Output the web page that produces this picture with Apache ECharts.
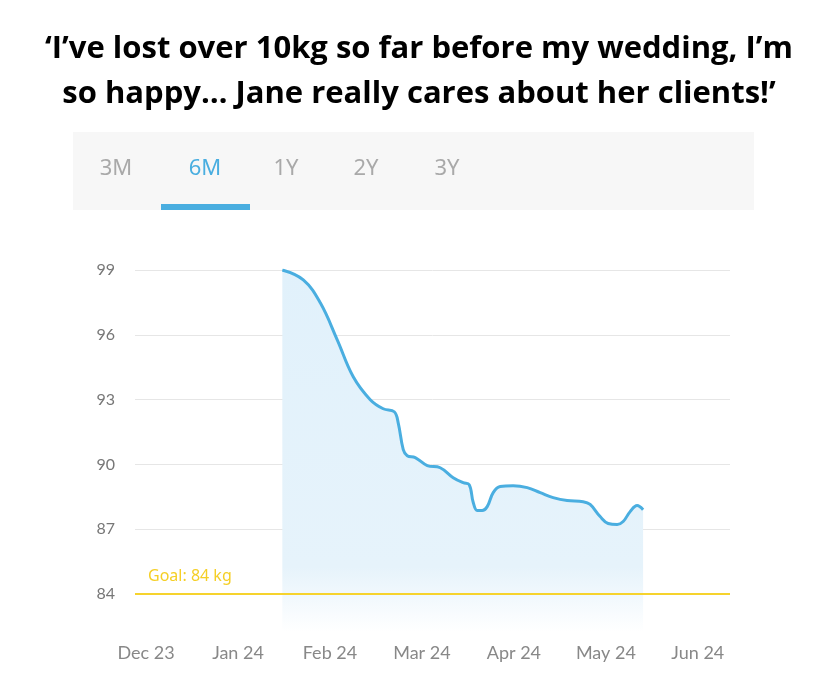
<!DOCTYPE html>
<html lang="en">
<head>
    <meta charset="UTF-8">
    <title>Weight progress</title>
    <script src="https://cdn.jsdelivr.net/npm/echarts@6/dist/echarts.min.js"></script>
    <style>
        html, body { margin: 0; padding: 0; background: #fff; }
    </style>
</head>
<body>
<div id="main" style="width: 828px;height:680px;"></div>
<script>
    // month labels on the x axis (0 = Dec 23)
    var months = ['Dec 23', 'Jan 24', 'Feb 24', 'Mar 24', 'Apr 24', 'May 24', 'Jun 24'];
    // position of each reading, in months from Dec 23
    var xPos = [1.482, 1.710, 1.895, 2.079, 2.253, 2.438, 2.579, 2.699, 2.742, 2.797,
        2.840, 2.927, 3.058, 3.199, 3.340, 3.449, 3.514, 3.558, 3.601, 3.655,
        3.710, 3.775, 3.851, 3.992, 4.145, 4.286, 4.427, 4.579, 4.753, 4.829,
        4.938, 5.025, 5.123, 5.188, 5.264, 5.340, 5.405];
    // weight in kg
    var weights = [99.00, 98.54, 97.48, 95.77, 94.06, 93.00, 92.58, 92.44, 91.93, 90.69,
        90.41, 90.32, 89.95, 89.85, 89.39, 89.16, 89.07, 88.24, 87.87, 87.87,
        88.05, 88.70, 88.98, 89.02, 88.93, 88.70, 88.47, 88.33, 88.28, 88.15,
        87.59, 87.27, 87.22, 87.36, 87.82, 88.10, 87.91];
    var goal = 84;
    var tabs = ['3M', '6M', '1Y', '2Y', '3Y'];
    var selectedTab = 1;

    var seriesData = [];
    for (var i = 0; i < xPos.length; i++) {
        seriesData.push([xPos[i], weights[i]]);
    }

    // tab bar above the chart
    var tabX = [116, 205, 286, 366, 447];
    var graphics = [
        { type: 'rect', shape: { x: 73, y: 132, width: 681, height: 78 }, style: { fill: '#f7f7f7' }, z: 0 },
        { type: 'rect', shape: { x: 161, y: 204, width: 89, height: 6 }, style: { fill: '#4aaee0' }, z: 1 }
    ];
    for (var t = 0; t < tabs.length; t++) {
        graphics.push({
            type: 'text',
            x: tabX[t],
            y: 169,
            style: {
                text: tabs[t],
                fill: t === selectedTab ? '#4aaee0' : '#a9a9a9',
                font: '22px "Noto Sans"',
                align: 'center',
                verticalAlign: 'middle'
            },
            z: 2
        });
    }

    var myChart = echarts.init(document.getElementById('main'));
    myChart.setOption({
        animation: false,
        title: {
            text: '‘I’ve lost over 10kg so far before my wedding, I’m\nso happy… Jane really cares about her clients!’',
            left: 414,
            top: 22,
            textAlign: 'center',
            textStyle: {
                fontFamily: 'Open Sans',
                fontSize: 31,
                fontWeight: 'bold',
                color: '#000',
                lineHeight: 45
            }
        },
        graphic: graphics,
        grid: {
            left: 135,
            right: 98,
            top: 270,
            bottom: 48
        },
        xAxis: {
            type: 'value',
            min: -0.12,
            max: 6.35,
            minInterval: 1,
            maxInterval: 1,
            axisLine: { show: false },
            axisTick: { show: false },
            splitLine: { show: false },
            axisLabel: {
                margin: 12,
                color: '#888',
                fontSize: 18,
                fontFamily: 'Lato',
                formatter: function (v) {
                    return Number.isInteger(v) ? months[v] : '';
                }
            }
        },
        yAxis: {
            type: 'value',
            min: 82.25,
            max: 99,
            minInterval: 3,
            maxInterval: 3,
            axisLine: { show: false },
            axisTick: { show: false },
            splitLine: {
                lineStyle: { color: ['rgba(0,0,0,0)', '#e6e6e6', '#e6e6e6', '#e6e6e6', '#e6e6e6', '#e6e6e6', '#e6e6e6'], width: 1 }
            },
            axisLabel: {
                margin: 20,
                color: '#777',
                fontSize: 16,
                fontFamily: 'Lato',
                formatter: function (v) {
                    return v % 3 === 0 ? String(v) : '';
                }
            }
        },
        series: [{
            type: 'line',
            data: seriesData,
            smooth: 0.4,
            symbol: 'none',
            lineStyle: { color: '#4aaee0', width: 3 },
            areaStyle: {
                origin: 'start',
                opacity: 1,
                color: new echarts.graphic.LinearGradient(0, 0, 0, 1, [
                    { offset: 0, color: '#e1f1fb' },
                    { offset: 0.82, color: '#e6f3fb' },
                    { offset: 1, color: '#ffffff' }
                ])
            },
            markLine: {
                silent: true,
                symbol: 'none',
                lineStyle: { color: '#f6d32d', width: 2, type: 'solid' },
                label: {
                    position: 'insideStartTop',
                    formatter: 'Goal: ' + goal + ' kg',
                    color: '#f5cf26',
                    fontSize: 16,
                    fontFamily: 'Noto Sans',
                    distance: [13, 10]
                },
                data: [{ yAxis: goal }]
            }
        }]
    });
</script>
</body>
</html>
